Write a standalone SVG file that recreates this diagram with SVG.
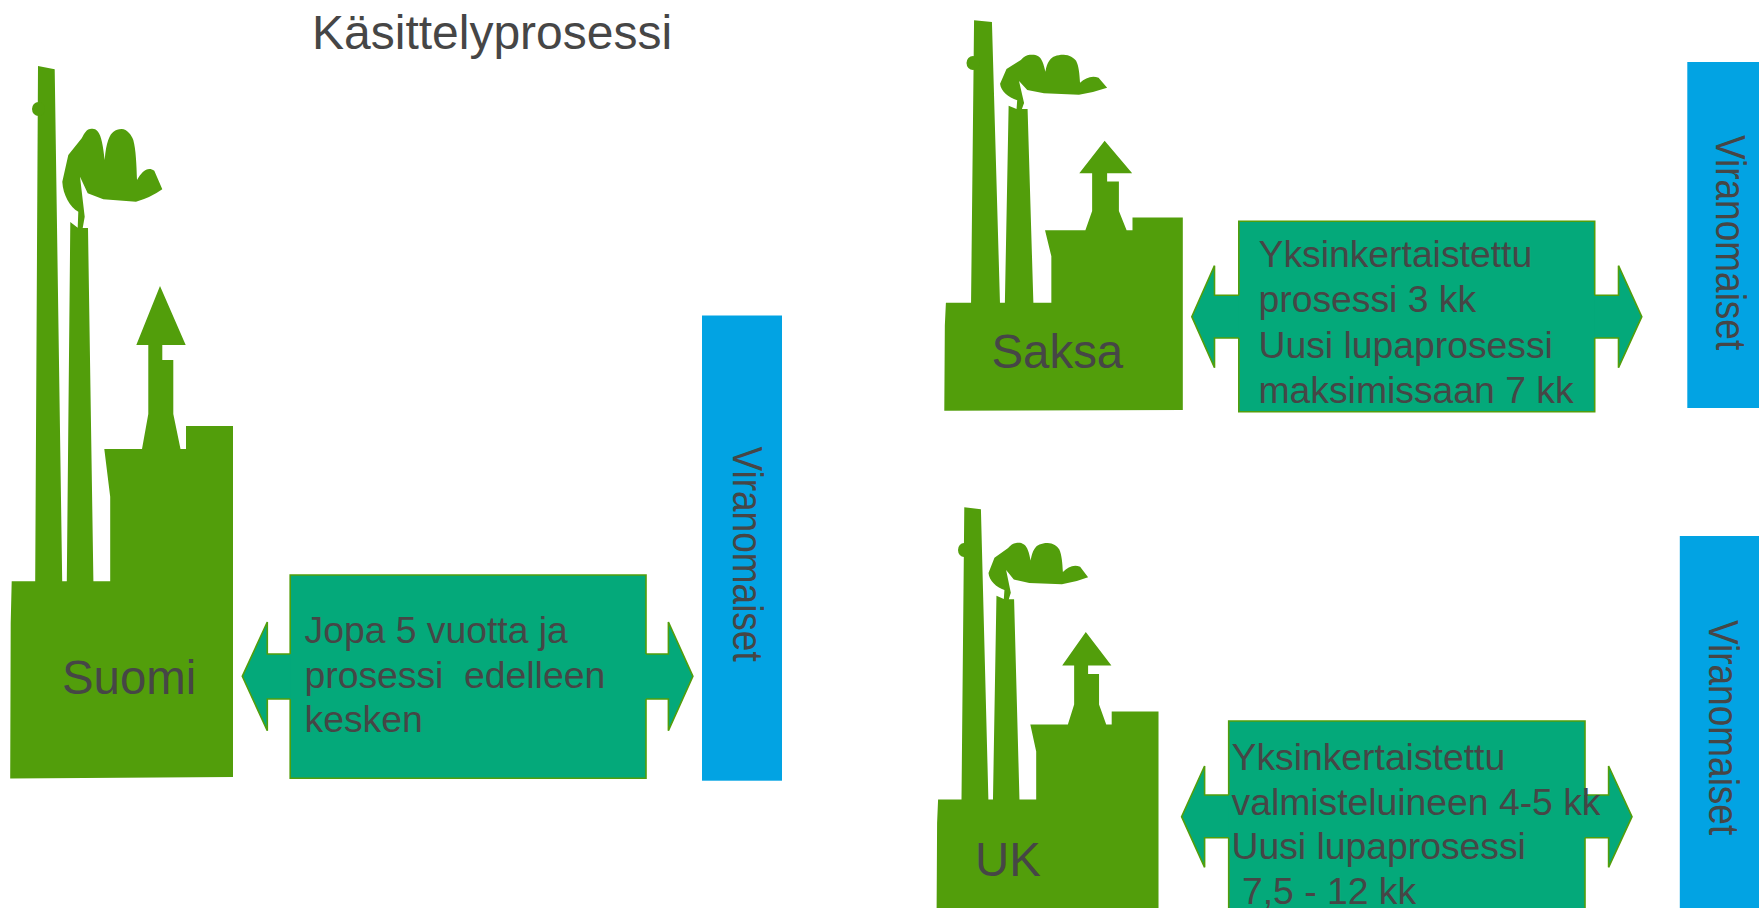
<svg xmlns="http://www.w3.org/2000/svg" width="1759" height="908" viewBox="0 0 1759 908">
<style>
text{font-family:"Liberation Sans",Arial,sans-serif;fill:#464646;white-space:pre}
.fac{fill:#529e0b}
.box{fill:#04a97a}
.edge{fill:none;stroke:#529e0b;stroke-width:1.6}
.arrow{fill:#04a97a;stroke:#529e0b;stroke-width:1.6}
.auth{fill:#02a3e3}
.lbl{font-size:47.4px}
.txt{font-size:37.3px}
.vert{font-size:37px}
.title{font-size:48px}
</style>
<defs>
<path id="factory" d="M10.2 778.5L233 777V426H186V449H180.5L173.3 414V360H162.3V345H185.7L160 286L136.3 345H148.3V414L142 449H104.3L110.2 496.7V581.3H93.4L88 228H82.7L84.7 216.7L80 176.7L87.7 193.3L103.3 199.3L136 201.7Q150 198 162.3 189.3L154.3 170.7C148 166 142 171 137 180C136.5 165 136 150 133.3 140C131.5 135 127 129 121.7 129C118 129 116 130 113.5 131.7C110 134 106 142 104.7 160C103 146 101.5 136 98 131.7C95 128 92.5 128.5 90 129C87 129 84.5 133 81.7 138.3L68.3 155L62.3 181.7C63 195 70 207 78.3 211.7L77.7 227.7L70.3 222L66.8 581.3H62.2L54.7 69.3L38 66L35.2 581.3H11.7L10.7 623Z"/>
</defs>
<g id="connectors">
<path class="arrow" d="M293 654H267.3V622L242.3 676.3L267.3 730.7V699H293"/>
<path class="arrow" d="M643 654H668.4V622L692.9 676.3L668.4 730.7V699H643"/>
<path class="arrow" d="M1242 295.3H1214.5V265.7L1191.8 316.7L1214.5 367.7V338H1242"/>
<path class="arrow" d="M1591 295.3H1618.5V265.7L1641.8 316.7L1618.5 367.7V338H1591"/>
<path class="arrow" d="M1232 795H1204.6V766L1181.6 816.7L1204.6 867.3V837.7H1232"/>
<path class="arrow" d="M1582 795H1608.6V766L1632 816.7L1608.6 867.3V837.7H1582"/>
</g>
<text id="title" class="title" x="312" y="49">Käsittelyprosessi</text>
<g id="factory-suomi">
<use href="#factory" class="fac"/>
<ellipse class="fac" cx="38.5" cy="109" rx="6.5" ry="7"/>
<text class="lbl" x="62" y="694">Suomi</text>
</g>
<g id="process-suomi">
<rect class="box" x="290.2" y="575" width="355.8" height="203.3"/>
<path class="edge" d="M290.2 654V575H646V654M646 699V778.3H290.2V699"/>
<text class="txt" x="304.5" y="643">Jopa 5 vuotta ja</text>
<text class="txt" x="304.5" y="687.8">prosessi  edelleen</text>
<text class="txt" x="304.5" y="732">kesken</text>
</g>
<g id="authority-suomi">
<rect class="auth" x="702" y="315.5" width="80" height="465.2"/>
<text class="vert" transform="translate(733 446.5) rotate(90) scale(1 1.15)">Viranomaiset</text>
</g>
<g id="factory-saksa">
<use href="#factory" class="fac" transform="matrix(1.0705 0 0 .548 933.38 -15.87)"/>
<ellipse class="fac" cx="973" cy="63" rx="6.5" ry="7"/>
<text class="lbl" x="991.5" y="368.3">Saksa</text>
</g>
<g id="process-saksa">
<rect class="box" x="1238.8" y="221.3" width="355.9" height="190.4"/>
<path class="edge" d="M1238.8 295.3V221.3H1594.7V295.3M1594.7 338V411.7H1238.8V338"/>
<text class="txt" x="1258.5" y="267">Yksinkertaistettu</text>
<text class="txt" x="1258.5" y="312">prosessi 3 kk</text>
<text class="txt" x="1258.5" y="357.5">Uusi lupaprosessi</text>
<text class="txt" x="1258.5" y="402.5">maksimissaan 7 kk</text>
</g>
<g id="authority-saksa">
<rect class="auth" x="1687.3" y="62" width="72" height="346"/>
<text class="vert" transform="translate(1716 135) rotate(90) scale(1 1.15)">Viranomaiset</text>
</g>
<g id="factory-uk">
<use href="#factory" class="fac" transform="matrix(.996 0 0 .567 926.44 469.88)"/>
<ellipse class="fac" cx="964" cy="550" rx="6" ry="7"/>
<text class="lbl" x="975" y="875.7">UK</text>
</g>
<g id="process-uk">
<rect class="box" x="1228.7" y="721" width="356.3" height="190"/>
<path class="edge" d="M1228.7 795V721H1585V795M1585 837.7V911H1228.7V837.7"/>
<text class="txt" x="1231.5" y="769.5">Yksinkertaistettu</text>
<text class="txt" x="1231.5" y="814.5">valmisteluineen 4-5 kk</text>
<text class="txt" x="1231.5" y="859">Uusi lupaprosessi</text>
<text class="txt" x="1242" y="903.5">7,5 - 12 kk</text>
</g>
<g id="authority-uk">
<rect class="auth" x="1679.8" y="536" width="80" height="372"/>
<text class="vert" transform="translate(1708.5 620) rotate(90) scale(1 1.15)">Viranomaiset</text>
</g>
</svg>
